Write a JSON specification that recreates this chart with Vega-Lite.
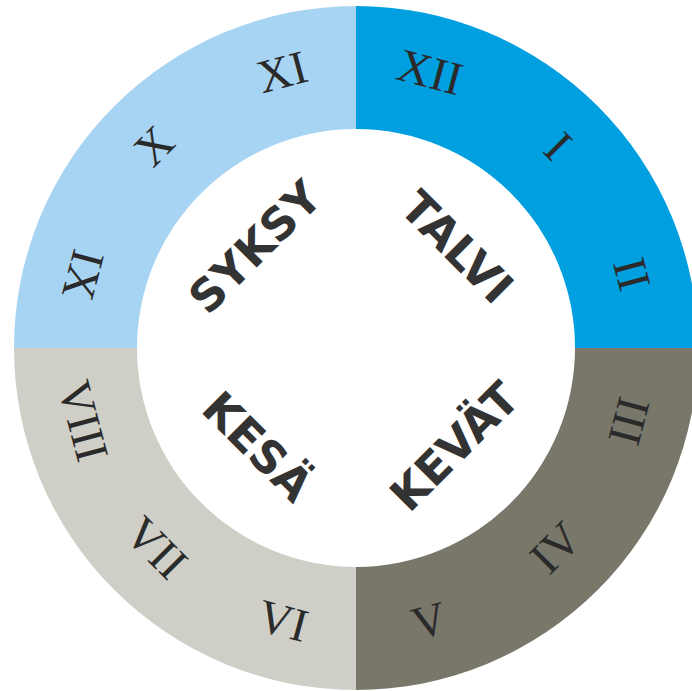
{
  "$schema": "https://vega.github.io/schema/vega-lite/v6.json",
  "autosize": "none",
  "padding": {"left": 14, "top": 5, "right": 0, "bottom": 0},
  "width": 684,
  "height": 686,
  "background": "white",
  "view": {"stroke": null},
  "datasets": {
    "seasons": [
      {"season": "TALVI", "value": 90, "order": 1, "pos": 45},
      {"season": "KEVÄT", "value": 90, "order": 2, "pos": 135},
      {"season": "KESÄ", "value": 90, "order": 3, "pos": 225},
      {"season": "SYKSY", "value": 90, "order": 4, "pos": 315}
    ],
    "months": [
      {"month": "XII", "pos": 15},
      {"month": "I", "pos": 45},
      {"month": "II", "pos": 75},
      {"month": "III", "pos": 105},
      {"month": "IV", "pos": 135},
      {"month": "V", "pos": 165},
      {"month": "VI", "pos": 195},
      {"month": "VII", "pos": 225},
      {"month": "VIII", "pos": 255},
      {"month": "IX", "pos": 285},
      {"month": "X", "pos": 315},
      {"month": "XI", "pos": 345}
    ]
  },
  "layer": [
    {
      "data": {"name": "seasons"},
      "mark": {"type": "arc", "outerRadius": 342, "innerRadius": 219},
      "encoding": {
        "theta": {"field": "value", "type": "quantitative", "stack": true, "scale": {"type": "linear", "domain": [0, 360], "range": [0, 6.283185307]}},
        "order": {"field": "order", "type": "quantitative"},
        "color": {"field": "season", "type": "nominal", "legend": null,
          "scale": {"domain": ["TALVI", "KEVÄT", "KESÄ", "SYKSY"], "range": ["#009FE0", "#78776A", "#CFCFC7", "#A8D4F4"]}}
      }
    },
    {
      "data": {"name": "months"},
      "transform": [
        {"calculate": "datum.pos > 90 && datum.pos < 300 ? datum.pos - 180 : datum.pos", "as": "rot"}
      ],
      "mark": {"type": "text", "radius": 284, "font": "Liberation Serif", "fontSize": 47, "color": "#2a2a2a", "align": "center", "baseline": "middle"},
      "encoding": {
        "theta": {"field": "pos", "type": "quantitative", "scale": {"type": "linear", "domain": [0, 360], "range": [0, 6.283185307]}},
        "angle": {"field": "rot", "type": "quantitative", "scale": null},
        "text": {"field": "month"}
      }
    },
    {
      "data": {"name": "seasons"},
      "transform": [
        {"calculate": "datum.pos > 90 && datum.pos < 270 ? datum.pos - 180 : datum.pos", "as": "rot"}
      ],
      "mark": {"type": "text", "radius": 141, "font": "DejaVu Sans", "fontWeight": "bold", "fontSize": 45, "color": "#333333", "align": "center", "baseline": "middle"},
      "encoding": {
        "theta": {"field": "pos", "type": "quantitative", "scale": {"type": "linear", "domain": [0, 360], "range": [0, 6.283185307]}},
        "angle": {"field": "rot", "type": "quantitative", "scale": null},
        "text": {"field": "season"}
      }
    }
  ],
  "resolve": {"scale": {"theta": "independent", "color": "independent"}}
}
